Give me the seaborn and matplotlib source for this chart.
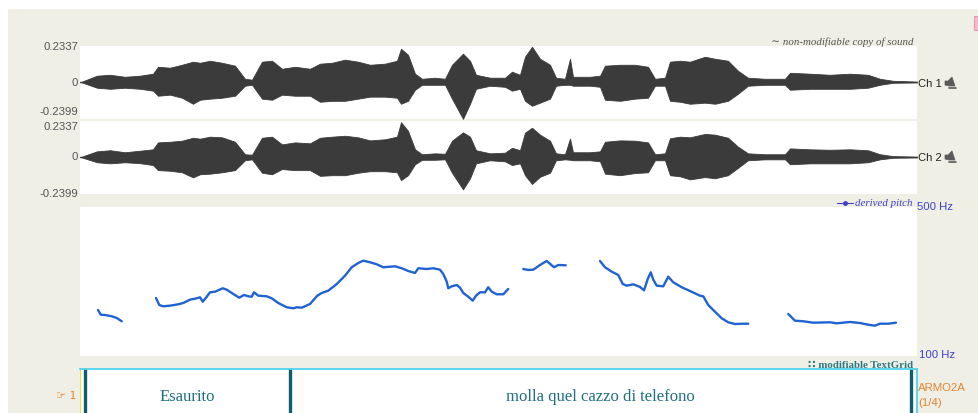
import numpy as np
import pandas as pd
import matplotlib
matplotlib.use("Agg")
import matplotlib.pyplot as plt
import seaborn as sns
from matplotlib.patches import Rectangle, Polygon
from matplotlib.lines import Line2D

sns.set_theme(style="white")
plt.rcParams["font.family"] = ["Liberation Sans", "DejaVu Sans"]

# ---------------- data ----------------
duration = 3.348          # seconds
amp_top, amp_bottom = 0.2337, -0.2399
pitch_floor, pitch_ceiling = 100, 500

# waveform envelope (time in s, peak amplitudes)
wave_time = [0, 0.008, 0.068, 0.120, 0.180, 0.240, 0.292, 0.312, 0.360, 0.408,
             0.452, 0.480, 0.520, 0.568, 0.620, 0.660, 0.688, 0.728, 0.768, 0.808,
             0.860, 0.920, 0.960, 1.008, 1.060, 1.112, 1.160, 1.220, 1.268, 1.284,
             1.312, 1.340, 1.368, 1.420, 1.460, 1.488, 1.532, 1.560, 1.584, 1.640,
             1.700, 1.728, 1.760, 1.780, 1.808, 1.840, 1.880, 1.904, 1.940, 1.960,
             1.972, 2.040, 2.080, 2.100, 2.160, 2.220, 2.272, 2.300, 2.340, 2.360,
             2.400, 2.440, 2.500, 2.540, 2.592, 2.632, 2.672, 2.740, 2.820, 2.840,
             2.920, 3.000, 3.080, 3.152, 3.200, 3.252, 3.348]

ch1_upper = [0.002, 0.003, 0.041, 0.047, 0.034, 0.041, 0.054, 0.099, 0.093, 0.112,
             0.132, 0.125, 0.138, 0.125, 0.106, 0.021, 0.015, 0.132, 0.138, 0.086,
             0.099, 0.086, 0.119, 0.125, 0.145, 0.132, 0.112, 0.119, 0.138, 0.216,
             0.177, 0.054, 0.021, 0.028, 0.021, 0.112, 0.184, 0.138, 0.047, 0.028,
             0.028, 0.067, 0.047, 0.164, 0.229, 0.151, 0.112, 0.028, 0.021, 0.151,
             0.034, 0.034, 0.041, 0.106, 0.112, 0.112, 0.099, 0.021, 0.028, 0.132,
             0.138, 0.132, 0.164, 0.151, 0.138, 0.073, 0.028, 0.021, 0.021, 0.060,
             0.054, 0.047, 0.054, 0.047, 0.021, 0.008, 0.003]
ch1_lower = [-0.002, -0.003, -0.037, -0.044, -0.037, -0.044, -0.056, -0.089, -0.082, -0.102,
             -0.141, -0.115, -0.108, -0.102, -0.089, -0.024, -0.018, -0.108, -0.115, -0.082,
             -0.089, -0.089, -0.128, -0.122, -0.122, -0.108, -0.095, -0.095, -0.102, -0.141,
             -0.122, -0.050, -0.018, -0.018, -0.018, -0.108, -0.239, -0.141, -0.044, -0.024,
             -0.031, -0.056, -0.044, -0.122, -0.154, -0.134, -0.108, -0.024, -0.018, -0.018,
             -0.024, -0.024, -0.031, -0.115, -0.122, -0.108, -0.102, -0.024, -0.024, -0.122,
             -0.128, -0.141, -0.134, -0.141, -0.122, -0.076, -0.024, -0.018, -0.018, -0.050,
             -0.044, -0.044, -0.044, -0.037, -0.018, -0.005, -0.003]

ch2_upper = [0.002, 0.003, 0.037, 0.044, 0.031, 0.041, 0.050, 0.095, 0.099, 0.106,
             0.125, 0.119, 0.132, 0.128, 0.099, 0.018, 0.015, 0.125, 0.132, 0.082,
             0.095, 0.089, 0.125, 0.132, 0.138, 0.128, 0.108, 0.115, 0.132, 0.226,
             0.170, 0.050, 0.018, 0.024, 0.021, 0.106, 0.160, 0.132, 0.044, 0.024,
             0.028, 0.060, 0.044, 0.158, 0.190, 0.145, 0.106, 0.024, 0.018, 0.120,
             0.031, 0.031, 0.037, 0.099, 0.108, 0.106, 0.095, 0.018, 0.024, 0.122,
             0.132, 0.128, 0.150, 0.145, 0.125, 0.067, 0.024, 0.018, 0.018, 0.056,
             0.050, 0.047, 0.050, 0.044, 0.018, 0.006, 0.003]
ch2_lower = [-0.002, -0.003, -0.034, -0.041, -0.034, -0.040, -0.052, -0.085, -0.089, -0.099,
             -0.132, -0.112, -0.108, -0.099, -0.085, -0.021, -0.015, -0.102, -0.112, -0.078,
             -0.085, -0.085, -0.122, -0.118, -0.118, -0.102, -0.092, -0.092, -0.099, -0.150,
             -0.118, -0.047, -0.018, -0.018, -0.015, -0.102, -0.210, -0.138, -0.041, -0.021,
             -0.028, -0.052, -0.041, -0.118, -0.175, -0.128, -0.102, -0.021, -0.015, -0.018,
             -0.021, -0.021, -0.028, -0.108, -0.118, -0.104, -0.099, -0.021, -0.021, -0.118,
             -0.125, -0.145, -0.130, -0.138, -0.118, -0.070, -0.021, -0.015, -0.015, -0.047,
             -0.041, -0.041, -0.041, -0.034, -0.015, -0.005, -0.003]

# derived pitch contour (Hz); NaN marks unvoiced gaps
pitch_time = [0.072, 0.083, 0.100, 0.127, 0.147, 0.167, np.nan,
              0.304, 0.317, 0.333, 0.360, 0.393, 0.413, 0.440, 0.467, 0.480, 0.491,
              0.504, 0.520, 0.540, 0.571, 0.587, 0.613, 0.637, 0.656, 0.673, 0.687,
              0.696, 0.713, 0.747, 0.767, 0.793, 0.827, 0.853, 0.867, 0.887, 0.920,
              0.949, 0.967, 0.993, 1.027, 1.060, 1.087, 1.113, 1.133, 1.160, 1.187,
              1.213, 1.260, 1.287, 1.313, 1.340, 1.353, 1.387, 1.413, 1.440, 1.453,
              1.467, 1.473, 1.487, 1.507, 1.520, 1.533, 1.553, 1.571, 1.584, 1.600,
              1.620, 1.633, 1.647, 1.667, 1.693, 1.713, np.nan,
              1.773, 1.793, 1.813, 1.840, 1.867, 1.896, 1.913, 1.943, np.nan,
              2.080, 2.100, 2.127, 2.153, 2.171, 2.187, 2.213, 2.240, 2.256, 2.271,
              2.283, 2.293, 2.307, 2.333, 2.353, 2.373, 2.407, 2.440, 2.480, 2.493,
              2.513, 2.540, 2.567, 2.593, 2.620, 2.653, 2.673, np.nan,
              2.833, 2.860, 2.893, 2.933, 3.000, 3.027, 3.080, 3.120, 3.153, 3.180,
              3.200, 3.233, 3.264]
pitch_hz = [223.5, 210.9, 210.1, 206.6, 202.0, 193.2, np.nan,
            255.7, 236.9, 233.4, 235.1, 238.8, 242.3, 251.2, 254.9, 257.6, 245.8,
            256.5, 271.0, 272.6, 281.8, 278.0, 266.5, 256.5, 263.8, 260.3, 259.2,
            271.0, 261.9, 260.3, 254.9, 242.3, 230.8, 228.1, 230.8, 229.7, 239.6,
            261.9, 269.2, 275.3, 293.3, 315.6, 338.2, 349.7, 355.9, 351.6, 346.2,
            338.2, 340.8, 335.5, 328.2, 322.9, 335.5, 333.6, 335.5, 331.7, 320.2,
            299.5, 281.8, 287.1, 290.6, 283.4, 269.2, 259.2, 248.5, 261.9, 271.0,
            271.0, 284.5, 272.6, 265.7, 265.7, 279.9, np.nan,
            333.6, 330.9, 331.7, 344.3, 355.1, 338.2, 344.3, 343.5, np.nan,
            355.1, 338.2, 326.3, 317.5, 293.3, 288.8, 292.5, 285.3, 276.4, 306.7,
            324.7, 304.9, 288.8, 287.1, 312.9, 297.9, 284.5, 274.5, 261.9, 260.3,
            236.9, 218.9, 201.2, 190.5, 185.9, 186.7, 186.7, np.nan,
            212.8, 194.8, 193.2, 189.4, 190.5, 187.8, 191.3, 188.6, 184.0, 181.4,
            186.7, 186.7, 189.4]

# TextGrid tier 1
tier_bounds = [0.02, 0.84, 3.324]
tier_labels = ["Esaurito", "molla quel cazzo di telefono"]
tier_name = "ARMO2A"

# ---------------- figure ----------------
W, H = 979, 414
fig = plt.figure(figsize=(W / 100, H / 100), dpi=100)
fig.patch.set_facecolor("white")

BEIGE = "#F0EFE6"
GREY_TXT = "#555555"
WAVE = "#3b3b3b"
PITCH = "#1F63D2"
BLUE_TXT = "#3F3FC8"
TEAL = "#0E5D70"
ORANGE = "#E2842E"


def fx(x):
    return x / W


def fy(y):
    return 1 - y / H


def add_px_axes(x0, y0, x1, y1):
    ax = fig.add_axes([fx(x0), fy(y1), (x1 - x0) / W, (y1 - y0) / H])
    ax.set_facecolor("white")
    ax.set_zorder(2)
    ax.set_xticks([])
    ax.set_yticks([])
    for s in ax.spines.values():
        s.set_visible(False)
    return ax


def ftext(x, y, s, **kw):
    fig.text(fx(x), fy(y), s, **kw)


# beige window background
fig.patches.append(Rectangle((fx(8), 0), 1 - fx(8), fy(10), transform=fig.transFigure,
                             facecolor=BEIGE, edgecolor="none", zorder=-5))

# waveform channels
for ch, (top, bot, up, lo) in enumerate([(47, 120, ch1_upper, ch1_lower),
                                         (122, 195, ch2_upper, ch2_lower)]):
    ax = add_px_axes(80, top, 917, bot)
    ax.fill_between(wave_time, lo, up, color=WAVE, linewidth=0.6, edgecolor=WAVE)
    ax.plot([0, duration], [0, 0], color=WAVE, lw=0.6)
    ax.set_xlim(0, duration)
    ax.set_ylim(amp_bottom, amp_top)

lab = dict(fontsize=8.2, color=GREY_TXT, ha="right", va="center")
ftext(78, 46.5, "0.2337", **lab)
ftext(78, 83, "0", **lab)
ftext(78, 112, "-0.2399", **lab)
ftext(78, 127, "0.2337", **lab)
ftext(78, 157, "0", **lab)
ftext(78, 194, "-0.2399", **lab)

ftext(918, 84, "Ch 1", fontsize=8, color="#222222", va="center")
ftext(918, 158, "Ch 2", fontsize=8, color="#222222", va="center")


def speaker(x, y):
    body = [(x, y - 2), (x + 3, y - 2), (x + 7, y - 6), (x + 10, y + 3),
            (x + 4, y + 3), (x, y + 2)]
    fig.patches.append(Polygon([(fx(a), fy(b)) for a, b in body], closed=True,
                               transform=fig.transFigure, facecolor="#5a5a5a",
                               edgecolor="#5a5a5a", lw=0.5))
    fig.lines.append(Line2D([fx(x + 4), fx(x + 11)], [fy(y + 5), fy(y + 5)],
                            transform=fig.transFigure, color="#5a5a5a", lw=1.2))


speaker(945, 84)
speaker(945, 158)

ftext(914, 42, "\u223C non-modifiable copy of sound", fontsize=7.8, color=GREY_TXT,
      ha="right", va="center", style="italic",
      family=["Liberation Serif", "DejaVu Serif", "DejaVu Sans"])

# pitch panel
axp = add_px_axes(80, 208, 917, 357)
pitch_df = pd.DataFrame({"time": pitch_time, "f0": pitch_hz})
pitch_df["segment"] = pitch_df["f0"].isna().cumsum()
pitch_df = pitch_df.dropna()
sns.lineplot(data=pitch_df, x="time", y="f0", units="segment", estimator=None,
             color=PITCH, linewidth=1.7, ax=axp, legend=False)
axp.set_xlim(0, duration)
axp.set_ylim(pitch_floor, pitch_ceiling)
axp.set_xlabel("")
axp.set_ylabel("")
axp.set_xticks([])
axp.set_yticks([])

fig.lines.append(Line2D([fx(837), fx(853)], [fy(204), fy(204)], transform=fig.transFigure,
                        color=BLUE_TXT, lw=0.8))
fig.lines.append(Line2D([fx(845)], [fy(204)], transform=fig.transFigure,
                        color=BLUE_TXT, marker="o", markersize=2.5, lw=0))
ftext(913, 204, "derived pitch", fontsize=7.8, color=BLUE_TXT, ha="right", va="center",
      style="italic", family=["Liberation Serif", "DejaVu Serif"])
ftext(917, 207, f"{pitch_ceiling} Hz", fontsize=8.2, color=BLUE_TXT, va="center")
ftext(919, 355, f"{pitch_floor} Hz", fontsize=8.2, color=BLUE_TXT, va="center")

ftext(913, 366, "\u2237 modifiable TextGrid", fontsize=7.8, color="#2C7A80",
      ha="right", va="center", weight="bold",
      family=["Liberation Serif", "DejaVu Sans"])

# TextGrid tier
axt = add_px_axes(80, 370, 917, 416)
axt.set_xlim(0, duration)
axt.set_ylim(0, 1)
for side in ("top", "right"):
    axt.spines[side].set_visible(True)
    axt.spines[side].set_color("#4FD3EF")
    axt.spines[side].set_linewidth(1.3)
axt.axvline(0.0015, color="#E6E43A", lw=1.6)
for b in tier_bounds:
    axt.axvline(b, color=TEAL, lw=2.4)
for (a, b), txt in zip(zip(tier_bounds[:-1], tier_bounds[1:]), tier_labels):
    axt.text((a + b) / 2, 0.42, txt, ha="center", va="center", fontsize=12,
             color="#1E6F80", family=["Liberation Serif", "DejaVu Serif"])

ftext(77, 396, "\u261E 1", fontsize=8, color=ORANGE, ha="right", va="center",
      family=["DejaVu Sans"])
ftext(918, 388, tier_name, fontsize=8.2, color=ORANGE, va="center")
ftext(918, 403, "(1/4)", fontsize=8.2, color=ORANGE, va="center")

# small marker at the top-right corner
fig.patches.append(Polygon([(fx(974), fy(17)), (fx(981), fy(17)), (fx(981), fy(31)),
                            (fx(974), fy(31))], closed=True, transform=fig.transFigure,
                           facecolor="#F6B9C9", edgecolor="#D98FA3", lw=0.6))

fig.savefig("out.png", dpi=100, facecolor=fig.get_facecolor())
